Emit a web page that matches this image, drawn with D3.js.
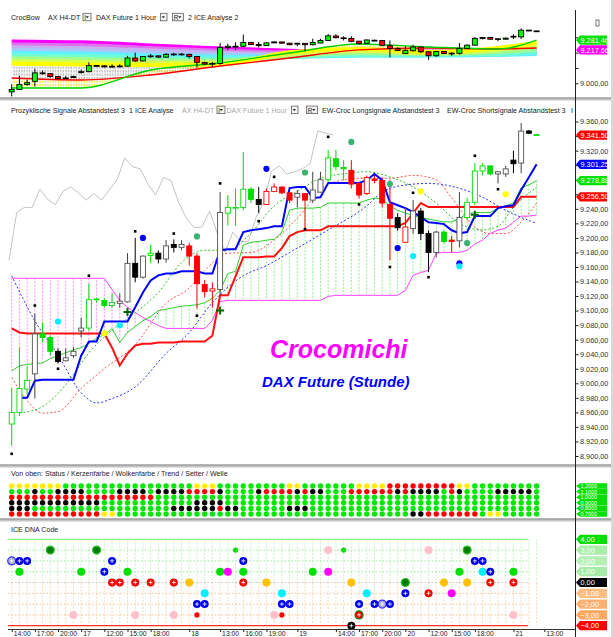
<!DOCTYPE html>
<html>
<head>
<meta charset="utf-8">
<script src="https://cdnjs.cloudflare.com/ajax/libs/d3/7.8.5/d3.min.js"></script>
<style>
body { margin: 0; background: #fff; }
svg { display: block; font-family: "Liberation Sans", Arial, sans-serif; }
</style>
</head>
<body>
<svg id="chart" width="614" height="637"></svg>
<script>
// hourly bars, index 0..68
var opens = [8944,8960,8992,9013,9068,9063,9044,9031,9038,9072,
  9076,9115,9114,9107,9110,9112,9165,9146,9176,9179,
  9171,9191,9187,9189,9175,9136,9127,9129,9234,9241,
  9242,9267,9253,9246,9264,9270,9262,9256,9261,9252,
  9263,9280,9309,9297,9293,9275,9261,9281,9279,9246,
  9228,9194,9213,9237,9206,9180,9208,9197,9196,9228,
  9249,9292,9299,9288,9288,9307,9303,9347,9342];
var highs = [8994,9049,9024,9096,9084,9066,9048,9048,9050,9090,
  9137,9118,9117,9124,9124,9179,9200,9176,9191,9183,
  9197,9198,9197,9193,9179,9142,9139,9263,9259,9268,
  9318,9270,9270,9268,9275,9271,9263,9266,9261,9291,
  9291,9321,9321,9307,9307,9277,9286,9286,9283,9280,
  9234,9241,9252,9241,9210,9210,9210,9203,9263,9255,
  9303,9303,9300,9292,9299,9320,9358,9348,9343];
var lows = [8914,8955,8985,8979,9056,9038,9027,9030,9035,9063,
  9072,9111,9104,9104,9104,9111,9139,9144,9166,9165,
  9166,9180,9183,9162,9103,9118,9104,9121,9217,9217,
  9238,9248,9234,9245,9263,9260,9248,9242,9210,9248,
  9262,9277,9293,9279,9268,9254,9259,9275,9242,9169,
  9210,9193,9206,9197,9153,9173,9193,9180,9187,9224,
  9245,9286,9286,9275,9284,9289,9289,9343,9341];
var closes = [8960,8993,9004,9068,9063,9044,9030,9035,9044,9076,
  9115,9116,9107,9111,9113,9165,9146,9175,9179,9171,
  9189,9187,9191,9175,9137,9126,9130,9235,9242,9242,
  9267,9253,9246,9264,9270,9262,9252,9261,9252,9266,
  9280,9310,9298,9295,9274,9259,9283,9279,9248,9227,
  9214,9215,9237,9206,9180,9208,9195,9195,9228,9249,
  9292,9299,9288,9291,9295,9302,9347,9344,9341.5];
var candleColors = "gggwggkwwwggggwwkwgkwkwrrrrwggggkrrrrwrwwgggrrrrrrkrwkkwgrwggggwwkwkg";

var tenkan = [null,8980,8980,9003.5,9005,9005,9005,9005,9005,9038,
  9057.5,9057.5,9085,9085,9085,9085,9104.5,9125,9141.5,9148.5,
  9151,9151,9154,9154,9154,9151,9151,9183,9184.5,9184.5,
  9208,9210.5,9212,9213.5,9216,9216,9268.5,9270,9270,9255,
  9256,9275.5,9275.5,9275.5,9275.5,9275.5,9279.5,9288,9279.5,9249,
  9245,9241,9235.5,9228.5,9221.5,9220.5,9219,9210.5,9206.5,9208,
  9230,9230,9230,9241,9243.5,9245,9266,9283.5,9301.25];
var kijun = [9075.5,9070,9068.5,9068.5,9068.5,9068.5,9068.5,9068.5,9068.5,9068.5,
  9068.5,9068.5,9068.5,9049,9024.5,9041,9052,9054.5,9054.5,9056,
  9056,9056,9057.5,9057.5,9057.5,9057.5,9065.5,9121,9121,9147,
  9173.5,9173.5,9173.5,9174.5,9174.5,9186,9202.5,9208,9210.5,9210.5,
  9210.5,9216,9216,9216,9216,9216,9216,9216,9216,9216,
  9216,9220.5,9234,9248,9242.5,9242.5,9242.5,9242.5,9242.5,9242.5,
  9242.5,9242.5,9242.5,9242.5,9242.5,9242.5,9256.5,9256.5,9256.5];
var spanA = [9017,9024,9026,9027,9028,9034,9038,9042,9046,9049,
  9055,9062,9067,9075,9056,9070,9078,9086,9092,9100,
  9102,9104,9106,9107,9108,9111,9117,9128,9151,9154,
  9190,9194,9195,9197,9198,9208,9238,9241,9241,9241,
  9242,9248,9248,9248,9248,9248,9252,9255,9253,9244,
  9238,9234,9231,9228,9226,9224,9222,9222,9227,9233,
  9235,9235,9235,9241,9244,9248,9269,9273,9278.88];
var spanB = [9144.5,9144.5,9144.5,9144.5,9144.5,9144.5,9144.5,9144.5,9144.5,9144.5,
  9144.5,9144.5,9144.5,9129,9114,9104.5,9097.5,9090.5,9085,9079.5,
  9075.5,9075.5,9075.5,9075.5,9075.5,9075.5,9086.5,9112.5,9114,9114,
  9114,9114,9114,9114,9114,9114,9114,9114,9114,9114,
  9114,9119.5,9121,9121,9121,9121,9121,9121,9121,9121,
  9121,9128,9148.5,9152.5,9155.5,9179,9180,9180,9180,9183,
  9191.5,9197,9206.5,9210.5,9213.5,9221.5,9230,9230,9231.5];
// lagging line: starts with the value before the shifted closes
var laggingStart = 9169;

var greenDashBars = [1,4,7,10,13,16,19,22,25,28,31,34,37,40,43,46,49,52,55,58,61,63,65,68];
var greenDashVals = [8959,8968,8998,9042,9073,9097,9125,9166,9183,9183,9207,9244,9264,9282,9288,9291,9284,9270,9248,9220,9211,9216,9242,9270];
var redDashBars = [0,2,4,6,9,12,16,20,23,25,28,31,34,37,41,45,49,52,55,57,60,62,64,66,68];
var redDashVals = [9008,8976,8959,8961,8993,9020,9053,9110,9131,9155,9179,9180,9197,9227,9274,9282,9282,9286,9280,9255,9215,9206,9206,9222,9248];
var blueDashBars = [0,3,6,9,11,13,16,20,23,26,30,33,36,41,46,48,50,54,57,61,64,68];
var blueDashVals = [9148,9086,9039,8987,8973,8979,8995,9041,9070,9111,9148,9162,9180,9211,9244,9263,9271,9275,9271,9256,9238,9220];

var blackDotBars = [0,3,6,10,16,21,24,27,32,34,38,41,45,49,52,54,60,63,67];
var blackDotVals = [8903,9107,9020,9148,9209,9206,9093,9275,9223,9284,9212,9339,9246,9160,9262,9146,9313,9267,9346];
var signalBars = [17,33,50,58, 6,14,52,58, 24,38,49,59,44, 12,53,64];
var signalVals = [9200,9295,9186,9165, 9085,9080,9175,9161, 9202,9290,9274,9193,9332, 9069,9264,9260];
var signalKinds = ["blue","blue","blue","blue","cyan","cyan","cyan","cyan",
  "sea","sea","sea","sea","sea","yellow","yellow","yellow"];
var crossBars = [15,27,60];
var crossVals = [9098,9100,9232];

// CrocBow ribbon, sampled at these bars
var bowBars = [0,9,18,27,36,45,54,63,68];
var bowLines = [
  [9272,9266,9246,9226,9212,9205,9205,9211,9217.66],
  [9254,9248,9230,9213,9202,9199,9199,9204,9208],
  [9236,9230,9214,9200,9192,9192,9193,9198,9201],
  [9218,9212,9198,9187,9183,9186,9187,9191,9195],
  [9200,9194,9182,9174,9174,9180,9181,9185,9191],
  [9182,9176,9166,9161,9171,9186,9186,9191,9204],
  [9164,9158,9150,9148,9178,9198,9192,9204,9224],
  [9146,9140,9134,9135,9190,9211,9199,9218,9244],
  [9128,9122,9118,9122,9203,9224,9205,9231,9263]
];
var bowColors = ["#ff00ff","#e070f0","#c8b0f0","#a8c8f8","#60f0ff","#70ffd0","#a0ff90","#d8ff50","#ffff00"];
var bowRed = [9035,9022,9054,9113,9165,9218,9231,9224,9231];
var bowGreen = [8969,8969,9087,9133,9198,9257,9237,9224,9281.46];

// bottom panels
var tickBars = [0,3,6,9,12,15,18,23,27,30,33,37,42,45,48,51,54,57,60,65,69];
var tickLabels = ["14:00","17:00","20:00","17","12:00","15:00","18:00","18","13:00","16:00","19:00","19",
  "14:00","17:00","20:00","20","12:00","15:00","18:00","21","13:00"];
var gridRowNames = ["1,2000","1,1000","1,0000","0,9000","0,8000","0,7000"];
var statusRow = "YYYYYYYGGGGGGGGGGGGGGGGGYYYGGGGGGGGGYYGGGGGGGYYYYRRRRRRRRRYYGGGGGGGGG";
var cloudRow  = "RRRRRRRRRRRRRRRRRRRGGGGGGGGGGGGGGGGGGGGGGGGGGGGGGGGGGGGGGGGGGGGGGGGGG";
var trendRow  = "KKKKKKKKKKKKGGGGGGGGGGGGKKKKGGGGGGGGGGGGGGGGGGGGGGGGGGGGGGGGGGGGGGGGG";
var setterRow = "KKKGGGGGGGGGGGGGGGGGGKKKKKKRKKGGGGGGKKKGGGGGGGGGGGGGGGGGGGGGGGGGGGGGG";
var welleRow  = "RRRRRRRRRRRRYYGGGGGGGGGGGGGGGGGGGGGGGGGGGGGGGGGGGGGGKKRRRRRRRGYYGGGGG";

var dnaBars = [0,1,2,1,5,8,9,11,12,13,13,14,15,16,16,18,21,21,23,24,24,25,25,27,28,29,30,30,30,33,34,35,35,35,36,
  39,41,41,43,44,44,45,45,46,47,48,49,51,51,54,54,56,57,58,59,59,60,61,61,62,62,65,65,65];
var dnaLevels = [2,2,2,1,3,-3,1,3,1,2,0,0,1,0,-3,0,0,-3,0,-2,-3,-1,-2,1,1,3,2,1,0,0,-3,-1,-2,-3,-2,
  1,3,1,3,0,-4,-2,-3,-1,-2,-2,-2,0,-1,3,-1,0,-1,1,3,0,2,2,1,1,0,1,0,-3];
var dnaKinds = ["greyblue","blue","blue","green","dkgreen","pink","green","dkgreen","blue","blue","red","red","green","red","pink",
  "red","red","pink","gold","blue","redsmall","cyan","blue","green","magenta","greensmall","blue","green","red","gold","pink",
  "cyan","blue","redsmall","blue",
  "green","pink","magenta","greensmall","gold","black","blue","redring","cyan","blue","greyblue","blue","dkgreen","blue",
  "pink","red","gold","magenta","green","dkgreen","gold","blue","blue","cyan","blue","red","green","red","pink"];
var dnaLevelNames = [4,3,2,1,0,-1,-2,-3,-4];
var dnaTagColors = ["#00e000","#a8eea8","#b4f0b4","#a6eca6","#000000","#ffbc80","#ffb070","#ffa860","#ff0000"];

// ---- scales ----
var de = d3.formatLocale({decimal: ",", thousands: ".", grouping: [3], currency: ["", ""]});
var fmt2 = de.format(",.2f");
var x = d3.scaleLinear().domain([0, 68]).range([11.7, 536.6]);
var yMain = d3.scaleLinear().domain([8900, 9360]).range([456, 121.6]);
var yTop = d3.scaleLinear().domain([9000, 9281.46]).range([83.3, 40.2]);
var yDna = d3.scaleLinear().domain([-4, 4]).range([625.7, 539.3]);
var yRow = d3.scalePoint().domain(d3.range(6)).range([486, 514]);

var svg = d3.select("#chart");
var defs = svg.append("defs");
defs.append("clipPath").attr("id", "clipTop").append("rect")
  .attr("x", 0).attr("y", 24).attr("width", 575).attr("height", 73);
defs.append("clipPath").attr("id", "clipMain").append("rect")
  .attr("x", 0).attr("y", 103).attr("width", 575).attr("height", 361);
[["hatchGrey", "#a0a0a0"], ["hatchYellow", "#f0dc00"]].forEach(function(p) {
  defs.append("pattern").attr("id", p[0]).attr("patternUnits", "userSpaceOnUse")
    .attr("width", 2.6).attr("height", 3.5)
    .append("line").attr("x1", 1).attr("x2", 1).attr("y1", 0).attr("y2", 2.4)
    .attr("stroke", p[1]).attr("stroke-width", 1);
});

// ---- frame ----
[97.5, 464.5, 518.5].forEach(function(y) {
  svg.append("rect").attr("x", 0).attr("y", y).attr("width", 611).attr("height", 3).attr("fill", "#c4c4c4");
  svg.append("line").attr("x1", 0).attr("x2", 611).attr("y1", y + 0.5).attr("y2", y + 0.5)
    .attr("stroke", "#8c8c8c");
});
svg.append("rect").attr("x", 611).attr("y", 0).attr("width", 3).attr("height", 637).attr("fill", "#d8d8d8");

function headerText(g, items, y) {
  items.forEach(function(t) {
    if (t.box) {
      g.append("rect").attr("x", t.x + 0.5).attr("y", y - 6.5).attr("width", t.box).attr("height", 7.5)
        .attr("fill", "#f4f4f4").attr("stroke", "#606060").attr("stroke-width", 0.8);
      if (t.t) g.append("text").attr("x", t.x + 1.8).attr("y", y).attr("font-size", 6.4).attr("fill", "#222").text(t.t);
      var tx = t.x + t.box - 3.2;
      g.append("path").attr("d", "M" + (tx - 1.6) + "," + (y - 3.6) + "h3.2l-1.6,2z").attr("fill", "#222");
    } else {
      g.append("text").attr("x", t.x).attr("y", y).attr("font-size", 7.1)
        .attr("fill", t.c || "#222").text(t.s);
    }
  });
}

headerText(svg.append("g"), [
  {x: 11, s: "CrocBow"}, {x: 48, s: "AX H4-DT"}, {x: 82.5, box: 8, t: "I"},
  {x: 96, s: "DAX Future  1 Hour"}, {x: 160, box: 6.5}, {x: 172, box: 11, t: "R"},
  {x: 188, s: "2 ICE Analyse 2"}
], 19.8);
headerText(svg.append("g"), [
  {x: 11, s: "Prozyklische Signale Abstandstest 3"}, {x: 129, s: "1 ICE Analyse"},
  {x: 182, s: "AX H4-DT", c: "#a8a8a8"}, {x: 216.5, box: 8, t: "I"},
  {x: 226.5, s: "DAX Future  1 Hour", c: "#a8a8a8"}, {x: 291, box: 6.5}, {x: 306, box: 11, t: "R"},
  {x: 322, s: "EW-Croc Longsignale Abstandstest 3"}, {x: 447, s: "EW-Croc Shortsignale Abstandstest 3"},
  {x: 571, s: "I"}
], 112.6);
svg.append("text").attr("x", 11).attr("y", 475.8).attr("font-size", 7.1).attr("fill", "#222")
  .text("Von oben: Status / Kerzenfarbe / Wolkenfarbe / Trend / Setter / Welle");
svg.append("text").attr("x", 11).attr("y", 531.8).attr("font-size", 7.1).attr("fill", "#222")
  .text("ICE DNA Code");

// ---- candles ----
var mainPalette = {g: "#00dc00", w: "#505050", k: "#000000", r: "#ff0000"};
function drawCandles(g, yScale, fillFn, strokeFn, wickFn) {
  var c = g.selectAll("g.candle").data(d3.range(opens.length)).join("g").attr("class", "candle");
  c.append("line")
    .attr("x1", function(i) { return x(i); }).attr("x2", function(i) { return x(i); })
    .attr("y1", function(i) { return yScale(highs[i]); })
    .attr("y2", function(i) { return yScale(lows[i]); })
    .attr("stroke", wickFn).attr("stroke-width", 1);
  c.append("rect")
    .attr("x", function(i) { return x(i) - 2.5; }).attr("width", 5)
    .attr("y", function(i) { return yScale(Math.max(opens[i], closes[i])); })
    .attr("height", function(i) { return Math.max(0.8, Math.abs(yScale(opens[i]) - yScale(closes[i]))); })
    .attr("fill", fillFn).attr("stroke", strokeFn).attr("stroke-width", 0.9);
}

// ---- top panel: CrocBow ----
var bowPanel = svg.append("g").attr("clip-path", "url(#clipTop)");
var bowCurve = d3.curveMonotoneX;
function bowArea(a, b) {
  return d3.area().curve(bowCurve)
    .x(function(d, k) { return x(bowBars[k]); })
    .y0(function(d, k) { return yTop(a[k]); })
    .y1(function(d, k) { return yTop(b[k]); });
}
bowPanel.append("path").datum(bowBars).attr("d", bowArea(bowLines[8], bowRed)).attr("fill", "url(#hatchGrey)");
bowPanel.append("path").datum(bowBars).attr("d", bowArea(bowRed, bowGreen)).attr("fill", "url(#hatchYellow)");
var bowLine = function(vals) {
  return d3.line().curve(bowCurve).x(function(d, k) { return x(bowBars[k]); })
    .y(function(d, k) { return yTop(vals[k]); })(vals);
};
bowLines.forEach(function(vals, j) {
  bowPanel.append("path").attr("d", bowLine(vals)).attr("fill", "none")
    .attr("stroke", bowColors[j]).attr("stroke-width", j === 0 ? 4.4 : 4);
});
bowPanel.append("path").attr("d", bowLine(bowRed)).attr("fill", "none").attr("stroke", "#ff0000").attr("stroke-width", 1.4);
bowPanel.append("path").attr("d", bowLine(bowGreen)).attr("fill", "none").attr("stroke", "#00d000").attr("stroke-width", 1.4);
drawCandles(bowPanel, yTop,
  function(i) { return closes[i] - opens[i] > 1.5 ? "#00ff00" : (opens[i] - closes[i] > 1.5 ? "#ff0000" : "#000"); },
  function() { return "#000"; },
  function() { return "#000"; });

// ---- main panel ----
var mainPanel = svg.append("g").attr("clip-path", "url(#clipMain)");
var idx = d3.range(opens.length);
mainPanel.selectAll("line.hatch").data(idx).join("line").attr("class", "hatch")
  .attr("x1", function(i) { return x(i); }).attr("x2", function(i) { return x(i); })
  .attr("y1", function(i) { return yMain(spanA[i]); }).attr("y2", function(i) { return yMain(spanB[i]); })
  .attr("stroke", function(i) { return spanB[i] > spanA[i] ? "#ff90ff" : "#90f090"; })
  .attr("stroke-width", 1).attr("stroke-dasharray", "2,1.5");

function seriesLine(vals, startAt) {
  var s = startAt || 0;
  return d3.line().defined(function(d) { return d != null; })
    .x(function(d, i) { return x(i + s); }).y(function(d) { return yMain(d); })(vals);
}
function sparseLine(bars, vals) {
  return d3.line().curve(d3.curveMonotoneX)
    .x(function(d, k) { return x(bars[k]); }).y(function(d) { return yMain(d); })(vals);
}
mainPanel.append("path").attr("d", seriesLine(spanB)).attr("fill", "none").attr("stroke", "#ff40ff").attr("stroke-width", 1);
mainPanel.append("path").attr("d", seriesLine(spanA)).attr("fill", "none").attr("stroke", "#30d030").attr("stroke-width", 1);
var lagging = [laggingStart].concat(closes.slice(27));
mainPanel.append("path").attr("d", seriesLine(lagging, -0.35)).attr("fill", "none").attr("stroke", "#c4c4c4").attr("stroke-width", 1);
mainPanel.append("path").attr("d", sparseLine(blueDashBars, blueDashVals)).attr("fill", "none")
  .attr("stroke", "#3030ff").attr("stroke-width", 1).attr("stroke-dasharray", "2,2");
mainPanel.append("path").attr("d", sparseLine(redDashBars, redDashVals)).attr("fill", "none")
  .attr("stroke", "#ff5050").attr("stroke-width", 1).attr("stroke-dasharray", "2,2");
mainPanel.append("path").attr("d", sparseLine(greenDashBars, greenDashVals)).attr("fill", "none")
  .attr("stroke", "#30c030").attr("stroke-width", 1).attr("stroke-dasharray", "2,2");
mainPanel.append("path").attr("d", seriesLine(kijun)).attr("fill", "none").attr("stroke", "#ff1010").attr("stroke-width", 2);
mainPanel.append("path").attr("d", seriesLine(tenkan)).attr("fill", "none").attr("stroke", "#0000ff").attr("stroke-width", 2);

drawCandles(mainPanel, yMain,
  function(i) { return closes[i] >= opens[i] ? "#fff" : mainPalette[candleColors[i]]; },
  function(i) { return mainPalette[candleColors[i]]; },
  function(i) { return candleColors[i] === "w" ? "#404040" : mainPalette[candleColors[i]]; });

mainPanel.selectAll("rect.bdot").data(blackDotBars).join("rect").attr("class", "bdot")
  .attr("x", function(b) { return x(b) - 1.3; }).attr("width", 2.6).attr("height", 2.6)
  .attr("y", function(b, k) { return yMain(blackDotVals[k]) - 1.3; }).attr("fill", "#000");
var signalFill = {blue: "#0000ff", cyan: "#00f0ff", sea: "#3cb371", yellow: "#ffff00"};
mainPanel.selectAll("circle.sig").data(signalBars).join("circle").attr("class", "sig")
  .attr("cx", function(b) { return x(b); }).attr("cy", function(b, k) { return yMain(signalVals[k]); })
  .attr("r", 3.1).attr("fill", function(b, k) { return signalFill[signalKinds[k]]; });
mainPanel.selectAll("path.cross").data(crossBars).join("path").attr("class", "cross")
  .attr("d", function(b, k) {
    var cx = x(b), cy = yMain(crossVals[k]);
    return "M" + (cx - 4) + "," + cy + "H" + (cx + 4) + "M" + cx + "," + (cy - 4) + "V" + (cy + 4);
  })
  .attr("stroke", "#006400").attr("stroke-width", 2);

svg.append("text").attr("x", 270).attr("y", 357.5).attr("font-size", 25).attr("font-weight", "bold")
  .attr("font-style", "italic").attr("fill", "#ff00ff").text("Crocomichi");
svg.append("text").attr("x", 262).attr("y", 386.5).attr("font-size", 15).attr("font-weight", "bold")
  .attr("font-style", "italic").attr("fill", "#0000ff").text("DAX Future (Stunde)");

// ---- right axes ----
var mainTags = [closes[68], tenkan[68], spanA[68], kijun[68]];
var topTags = [bowGreen[8], bowLines[0][8]];
function styleAxis(g, scale, tags) {
  g.select(".domain").remove();
  g.selectAll("text").attr("font-size", 7.3).attr("fill", "#303030").attr("font-family", null)
    .filter(function(d) { return tags.some(function(t) { return Math.abs(scale(t) - scale(d)) < 8.5; }); })
    .remove();
  g.selectAll("line").attr("stroke", "#222");
}
svg.append("g").attr("transform", "translate(575.5,0)")
  .call(d3.axisRight(yMain).tickValues(d3.range(8900, 9361, 20)).tickFormat(fmt2).tickSize(3).tickPadding(1.5))
  .call(styleAxis, yMain, mainTags);
svg.append("g").attr("transform", "translate(575.5,0)")
  .call(d3.axisRight(yTop).tickValues([9000, 9100, 9200, 9300])
    .tickFormat(function(d) { return d === 9100 ? "" : fmt2(d); }).tickSize(3).tickPadding(1.5))
  .call(styleAxis, yTop, topTags);
svg.append("line").attr("x1", 575.5).attr("x2", 575.5).attr("y1", 10).attr("y2", 637)
  .attr("stroke", "#202020");

function tag(y, text, fill, color, h, fs) {
  var g = svg.append("g"), hh = h || 4.6;
  g.append("path").attr("d", "M576," + y + "l4,-" + hh + "H607V" + (y + hh) + "H580Z").attr("fill", fill);
  g.append("text").attr("x", 580.5).attr("y", y + (fs || 7.3) * 0.36).attr("font-size", fs || 7.3)
    .attr("fill", color).text(text);
}
topTags.forEach(function(v, k) { tag(yTop(v), fmt2(v), ["#00e000", "#ff00ff"][k], "#fff"); });
mainTags.forEach(function(v, k) { tag(yMain(v), fmt2(v), ["#ff0000", "#0000ff", "#00e000", "#ff0000"][k], "#fff"); });
svg.append("rect").attr("x", 596).attr("y", 20).attr("width", 3).attr("height", 6)
  .attr("fill", "#fff").attr("stroke", "#555").attr("stroke-width", 0.8);

// ---- status dot grid ----
var gridRows = [statusRow, candleColors.toUpperCase().replace(/W/g, "K"), cloudRow, trendRow, setterRow, welleRow];
var gridFill = {Y: "#ffee00", G: "#00e800", K: "#000000", R: "#ff0000"};
gridRows.forEach(function(row, r) {
  svg.append("g").selectAll("circle").data(row.split("")).join("circle")
    .attr("cx", function(d, i) { return x(i); }).attr("cy", yRow(r)).attr("r", 2.7)
    .attr("fill", function(d) { return gridFill[d]; });
});
gridRowNames.forEach(function(name, r) {
  tag(yRow(r), name, "#00e000", "#fff", 2.75, 5.4);
});

// ---- ICE DNA code ----
var dna = svg.append("g");
dna.selectAll("line.vg").data(idx).join("line").attr("class", "vg")
  .attr("x1", function(i) { return x(i); }).attr("x2", function(i) { return x(i); })
  .attr("y1", yDna(4)).attr("y2", yDna(0)).attr("stroke", "#c4f4c4").attr("stroke-dasharray", "2,1.5");
dna.selectAll("line.vo").data(idx).join("line").attr("class", "vo")
  .attr("x1", function(i) { return x(i); }).attr("x2", function(i) { return x(i); })
  .attr("y1", yDna(0)).attr("y2", yDna(-4)).attr("stroke", "#ffd8b0").attr("stroke-dasharray", "2,1.5");
dnaLevelNames.forEach(function(lv) {
  var solid = Math.abs(lv) === 4;
  dna.append("line").attr("x1", 8).attr("x2", 528).attr("y1", yDna(lv)).attr("y2", yDna(lv))
    .attr("stroke", lv === 4 ? "#88ff88" : lv === -4 ? "#ff3030" : lv > 0 ? "#a0e8a0" : lv < 0 ? "#ffc090" : "#c8c8c8")
    .attr("stroke-width", solid ? 1.2 : 1).attr("stroke-dasharray", solid ? null : "1.5,2");
});
var dnaStyle = {
  blue: ["#0000ee", null, 4], greyblue: ["#b0b0c8", "#3030ff", 4], green: ["#00e000", null, 4],
  dkgreen: ["#008000", "#30c030", 4], pink: ["#ffc0cc", null, 4], red: ["#ff0000", null, 4],
  redsmall: ["#ff0000", null, 2.6], redring: ["#ff0000", "#008000", 4], gold: ["#ffc000", null, 4],
  cyan: ["#00f0ff", null, 4], magenta: ["#ff00ff", null, 4], greensmall: ["#00e000", null, 2.6],
  black: ["#000000", null, 4]
};
dnaBars.forEach(function(b, k) {
  var s = dnaStyle[dnaKinds[k]], cx = x(b), cy = yDna(dnaLevels[k]);
  dna.append("circle").attr("cx", cx).attr("cy", cy).attr("r", s[2]).attr("fill", s[0])
    .attr("stroke", s[1]).attr("stroke-width", s[1] ? 1.2 : null);
  if (["blue", "red", "black", "greyblue", "redring"].indexOf(dnaKinds[k]) >= 0) {
    dna.append("path").attr("d", "M" + (cx - 2) + "," + cy + "h4M" + cx + "," + (cy - 2) + "v4")
      .attr("stroke", "#fff").attr("stroke-width", 0.8);
  }
});
dnaLevelNames.forEach(function(lv, k) {
  tag(yDna(lv), fmt2(lv), dnaTagColors[k], "#fff");
});

// ---- time axis ----
var xAxis = svg.append("g").attr("transform", "translate(0,629.5)")
  .call(d3.axisBottom(x).tickValues(tickBars).tickFormat(function(d, k) { return tickLabels[k]; })
    .tickSize(2.5).tickPadding(1));
xAxis.select(".domain").remove();
xAxis.selectAll("line").attr("stroke", "#222");
xAxis.selectAll("text").attr("text-anchor", "start").attr("dx", 1.5).attr("y", 6.9).attr("dy", null)
  .attr("font-size", 6.8).attr("fill", "#222").attr("font-family", null);
svg.append("line").attr("x1", 8).attr("x2", 575).attr("y1", 629.5).attr("y2", 629.5).attr("stroke", "#333");
</script>
</body>
</html>
